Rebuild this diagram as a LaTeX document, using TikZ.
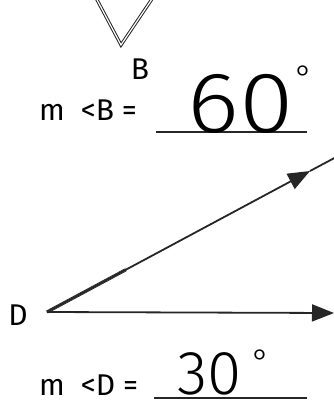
\documentclass[tikz,border=0pt]{standalone}
\usepackage{fontspec}
\setmainfont{Fira Sans}
\newfontfamily\hand{Fira Sans Light}
\usetikzlibrary{arrows.meta,calc}
\begin{document}
\begin{tikzpicture}[x=1pt,y=-1pt,
  ray/.style={line width=1.8pt,draw=black!85},
  twin/.style={double=white,double distance=1.2pt,line width=1pt,draw=black!85},
  tip/.style={-{Triangle[length=22pt,width=17pt]}},
  lab/.style={font=\fontsize{30}{30}\selectfont,inner sep=0pt,anchor=base west},
  answer/.style={font=\hand\fontsize{#1}{#1}\selectfont,inner sep=0pt,anchor=base west},
  uline/.style={line width=1.8pt,draw=black!85}]
\useasboundingbox (0,0) rectangle (334,402);
\clip (0,0) rectangle (334,402);
% top angle B
\coordinate (Bv) at (121,45);
\coordinate (Bl) at (95,-4);
\coordinate (Br) at (154,-4);
\draw[twin] (Bl) -- (Bv) -- (Br);
\node[font=\fontsize{30}{30}\selectfont,inner sep=0pt] (Blab) at (140,69) {B};
\node[lab] (mB) at (39,120) {m\ \ <B =};
\coordinate (uBl) at (156,132);
\coordinate (uBr) at (307,132);
\draw[uline] (uBl) -- (uBr);
\node[answer=86,xscale=1.15] (aB) at (187,132) {60};
\node[font=\hand\fontsize{34}{34}\selectfont,inner sep=0pt] (dB) at (304,78) {°};
% angle D
\coordinate (D) at (47,312);
\coordinate (Um) at (310,171);
\coordinate (Ue) at (340,155);
\coordinate (He) at (334,313);
\coordinate (Dt) at ($(D)!0.3!(Um)$);
\draw[twin] (D) -- (Dt);
\draw[ray,tip] (D) -- (Um);
\draw[ray] (Um) -- (Ue);
\draw[ray,tip] (D) -- (He);
\node[font=\fontsize{30}{30}\selectfont,inner sep=0pt] (Dlab) at (18,315) {D};
\node[lab] (mD) at (39,395) {m\ \ <D =};
\coordinate (uDl) at (154,398);
\coordinate (uDr) at (307,398);
\draw[uline] (uDl) -- (uDr);
\node[answer=62] (aD) at (177,394) {30};
\node[font=\hand\fontsize{34}{34}\selectfont,inner sep=0pt] (dD) at (261,362) {°};
\end{tikzpicture}
\end{document}
